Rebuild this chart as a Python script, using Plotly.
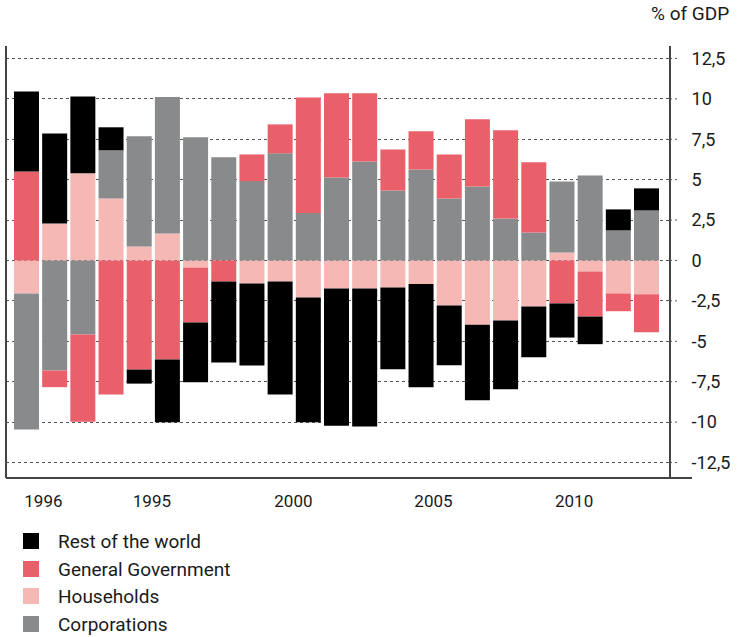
import plotly.graph_objects as go

years = list(range(1990, 2013))

households = [-2.04, 2.29, 5.39, 3.84, 0.87, 1.67, -0.43, 0.0, -1.42, -1.30, -2.29, -1.73,
              -1.73, -1.67, -1.46, -2.79, -3.98, -3.72, -2.85, 0.50, -0.68, -2.04, -2.09]
corporations = [-8.42, -6.81, -4.58, 2.97, 6.81, 8.44, 7.62, 6.38, 4.91, 6.63, 2.93, 5.14,
                6.13, 4.33, 5.63, 3.84, 4.58, 2.60, 1.73, 4.39, 5.26, 1.86, 3.10]
general_gov = [5.51, -1.03, -5.40, -8.30, -6.75, -6.13, -3.41, -1.30, 1.65, 1.79, 7.16, 5.20,
               4.21, 2.54, 2.36, 2.72, 4.15, 5.45, 4.34, -2.66, -2.79, -1.10, -2.35]
rest_world = [4.95, 5.57, 4.76, 1.43, -0.87, -3.88, -3.69, -5.02, -5.08, -7.00, -7.72, -8.49,
              -8.55, -5.06, -6.38, -3.69, -4.67, -4.25, -3.14, -2.11, -1.71, 1.30, 1.36]

x_tick_pos = [1990.6, 1994.45, 1999.47, 2004.44, 2009.43]
x_tick_labels = ["1996", "1995", "2000", "2005", "2010"]
y_tick_vals = [12.5, 10, 7.5, 5, 2.5, 0, -2.5, -5, -7.5, -10, -12.5]
y_tick_labels = ["12,5", "10", "7,5", "5", "2,5", "0", "-2,5", "-5", "-7,5", "-10", "-12,5"]

series = [
    ("Households", households, "#F6B8B4"),
    ("Corporations", corporations, "#898A8C"),
    ("General Government", general_gov, "#E9606A"),
    ("Rest of the world", rest_world, "#000000"),
]
legend_order = ["Rest of the world", "General Government", "Households", "Corporations"]
colors = {n: c for n, _, c in series}

FONT = "Roboto, Liberation Sans, DejaVu Sans, sans-serif"
TXT = "#1a1a1a"

fig = go.Figure()
for name, vals, col in series:
    fig.add_trace(go.Bar(x=years, y=vals, name=name, marker_color=col,
                         marker_line_width=0, showlegend=False))

# plot area in pixels
W, H = 741, 637
L, R, T, B = 6, 669, 46, 478
pw, ph = R - L, B - T

def px(X):
    return (X - L) / pw

def py(Y):
    return (B - Y) / ph

shapes = []
# left axis line
shapes.append(dict(type="line", xref="paper", yref="paper", x0=0, x1=0, y0=0, y1=1,
                   line=dict(color="#444444", width=2)))
# bottom axis line (extends past right axis)
shapes.append(dict(type="line", xref="paper", yref="paper", x0=0, x1=px(692), y0=0, y1=0,
                   line=dict(color="#444444", width=2)))
# dotted tick extensions beyond right axis
for v in y_tick_vals:
    shapes.append(dict(type="line", xref="paper", yref="y", x0=1, x1=px(677), y0=v, y1=v,
                       line=dict(color="#555555", width=1, dash="dot")))
# legend squares
legend_y = [541, 569, 596, 624]
annotations = []
for name, yc in zip(legend_order, legend_y):
    shapes.append(dict(type="rect", xref="paper", yref="paper",
                       x0=px(23), x1=px(39), y0=py(yc + 8), y1=py(yc - 8),
                       fillcolor=colors[name], line=dict(width=0)))
    annotations.append(dict(xref="paper", yref="paper", x=px(56), y=py(yc), text=name,
                            showarrow=False, xanchor="left", yanchor="middle",
                            font=dict(family=FONT, size=19, color=TXT)))

annotations.append(dict(xref="paper", yref="paper", x=px(731), y=py(13), text="% of GDP",
                        showarrow=False, xanchor="right", yanchor="middle",
                        font=dict(family=FONT, size=19, color=TXT)))

fig.update_layout(
    width=W, height=H,
    margin=dict(l=L, r=W - R, t=T, b=H - B, pad=0),
    barmode="relative", bargap=0.113,
    plot_bgcolor="white", paper_bgcolor="white",
    font=dict(family=FONT, color=TXT),
    shapes=shapes, annotations=annotations,
    xaxis=dict(range=[1989.273, 2012.798], tickmode="array", tickvals=x_tick_pos,
               ticktext=x_tick_labels, showgrid=False, zeroline=False, showline=False,
               ticks="outside", ticklen=8, tickcolor="rgba(0,0,0,0)",
               tickfont=dict(size=17, family=FONT, color=TXT)),
    yaxis=dict(range=[-13.46, 13.27], side="right", tickmode="array",
               tickvals=y_tick_vals, ticktext=y_tick_labels,
               showgrid=True, gridcolor="#555555", griddash="dot", gridwidth=1,
               zeroline=False, showline=True, linecolor="#444444", linewidth=2,
               ticks="outside", ticklen=17, tickcolor="rgba(0,0,0,0)",
               tickfont=dict(size=18, family=FONT, color=TXT)),
)

fig.write_html("out.html", config={"displayModeBar": False},
               post_script="document.body.style.margin='0';document.body.style.padding='0';")
